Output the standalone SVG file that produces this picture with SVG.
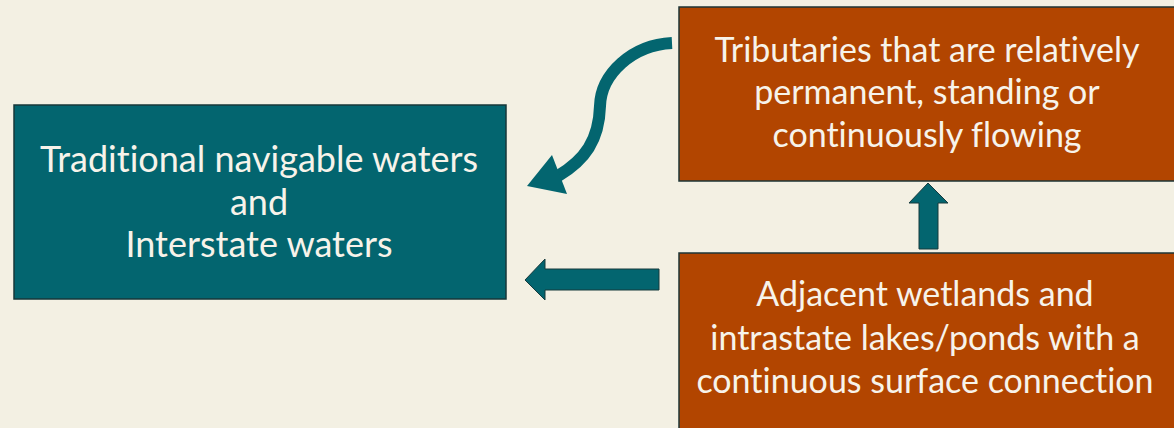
<svg xmlns="http://www.w3.org/2000/svg" width="1174" height="428" viewBox="0 0 1174 428">
<style>
.teal{fill:#03656F;stroke:#17373A;stroke-width:1.5}
.brown{fill:#B24500;stroke:#1E3436;stroke-width:1.5}
.lbl{font-family:Lato,"Open Sans","Liberation Sans",sans-serif;font-size:34px;fill:#F7F3EA;text-anchor:middle;font-variant-ligatures:none}
.big{font-size:36px}
.arr{fill:#03656F;stroke:#163A3D;stroke-width:1}
</style>
<rect width="1174" height="428" fill="#F3F0E3"/>
<g id="node-traditional">
<rect class="teal" x="14" y="105" width="492" height="194"/>
<text class="lbl big" x="259" y="172">Traditional navigable waters</text>
<text class="lbl big" x="259" y="215">and</text>
<text class="lbl big" x="259" y="257">Interstate waters</text>
</g>
<g id="node-tributaries">
<rect class="brown" x="679" y="7" width="500" height="174"/>
<text class="lbl" x="927" y="62">Tributaries that are relatively</text>
<text class="lbl" x="927" y="104">permanent, standing or</text>
<text class="lbl" x="927" y="147">continuously flowing</text>
</g>
<g id="node-adjacent">
<rect class="brown" x="679" y="253" width="500" height="180"/>
<text class="lbl" x="925" y="306">Adjacent wetlands and</text>
<text class="lbl" x="925" y="350">intrastate lakes/ponds with a</text>
<text class="lbl" x="925" y="393">continuous surface connection</text>
</g>
<g id="connectors">
<path d="M672,43 C632,45 601,74 600,106 C599,140 585,160 558,176" fill="none" stroke="#03656F" stroke-width="12"/>
<polygon points="527,186 552,155 567,194" fill="#03656F"/>
<polygon class="arr" points="525,280 545,259 545,269 659,269 659,290 545,290 545,300"/>
<polygon class="arr" points="928,183 948,203 938,203 938,249 919,249 919,203 909,203"/>
</g>
</svg>
